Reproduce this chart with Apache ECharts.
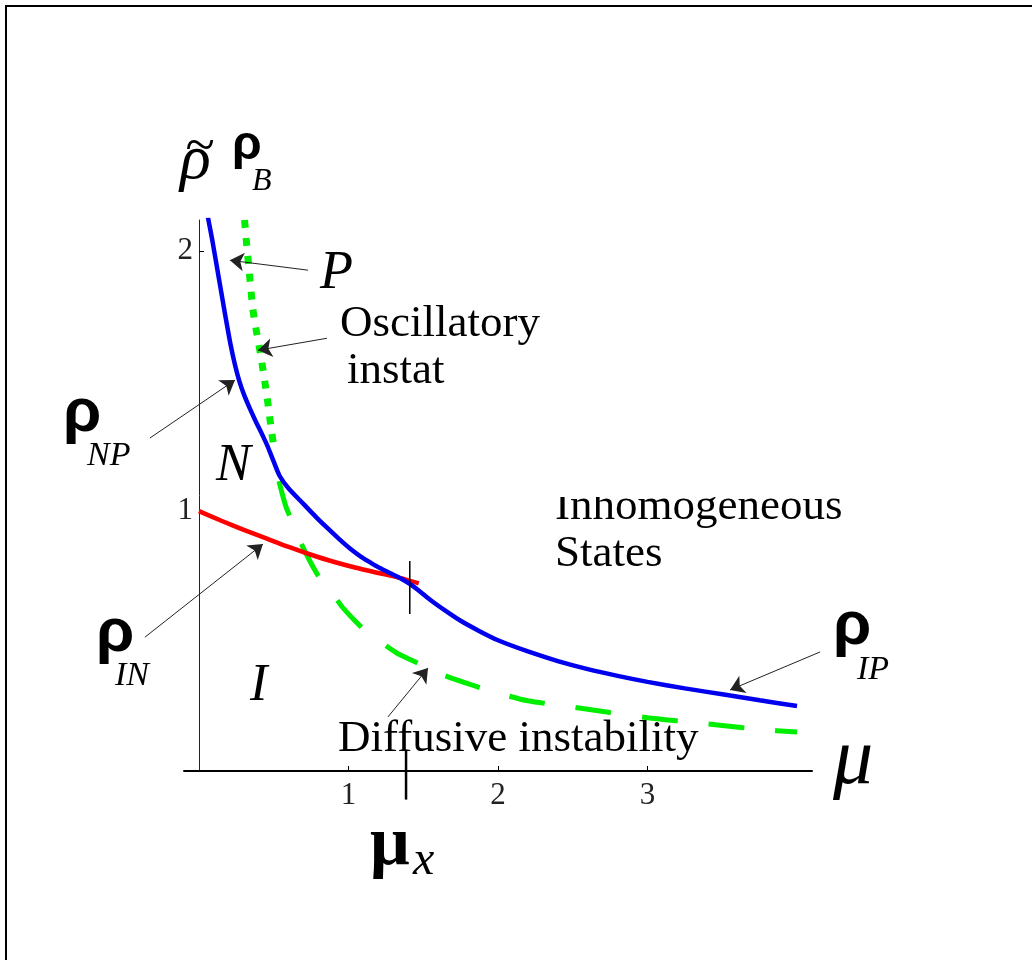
<!DOCTYPE html>
<html>
<head>
<meta charset="utf-8">
<script src="https://cdn.jsdelivr.net/npm/echarts@6/dist/echarts.min.js"></script>
<style>
  html, body { margin: 0; padding: 0; background: #fff; }
  #chart { width: 1032px; height: 960px; }
</style>
</head>
<body>
<div id="chart"></div>
<script>
// Phase diagram in the (mu, rho) plane: boundary curves between the
// homogeneous (I, N, P) regions and the inhomogeneous states.

const xTicks = [1, 2, 3];
const yTicks = [1, 2];

// rho_NP continuing into rho_IP (blue)
const rhoNPIP = [
  [0.06, 2.13], [0.09, 2.04], [0.12, 1.94], [0.15, 1.84], [0.18, 1.74],
  [0.21, 1.645], [0.24, 1.565], [0.27, 1.50], [0.30, 1.45], [0.34, 1.395],
  [0.38, 1.345], [0.42, 1.298], [0.46, 1.248], [0.50, 1.19], [0.54, 1.135],
  [0.60, 1.087], [0.70, 1.027], [0.78, 0.979], [0.86, 0.934], [0.94, 0.891],
  [1.01, 0.856], [1.08, 0.826], [1.15, 0.801], [1.21, 0.781], [1.28, 0.761],
  [1.35, 0.741], [1.41, 0.72], [1.48, 0.69], [1.55, 0.657], [1.65, 0.616],
  [1.75, 0.578], [1.87, 0.54], [2.0, 0.503], [2.2, 0.46], [2.4, 0.423],
  [2.6, 0.392], [2.8, 0.366], [3.0, 0.343], [3.25, 0.318], [3.5, 0.295],
  [3.75, 0.272], [4.0, 0.25]
];

// rho_IN (red)
const rhoIN = [
  [0, 1.0], [0.15, 0.963], [0.3, 0.928], [0.45, 0.895], [0.6, 0.862],
  [0.75, 0.832], [0.9, 0.805], [1.05, 0.782], [1.2, 0.762], [1.35, 0.742],
  [1.47, 0.722]
];

// oscillatory instability threshold (green, dotted)
const oscillatory = [
  [0.305, 2.12], [0.32, 2.02], [0.335, 1.93], [0.36, 1.78], [0.385, 1.69],
  [0.41, 1.61], [0.44, 1.50], [0.46, 1.42], [0.48, 1.33], [0.50, 1.25]
];

// diffusive instability threshold (green, dashed)
const diffusive = [
  [0.535, 1.115], [0.58, 1.02], [0.63, 0.95], [0.68, 0.88], [0.74, 0.81],
  [0.81, 0.74], [0.89, 0.685], [0.96, 0.63], [1.04, 0.58], [1.13, 0.53],
  [1.23, 0.49], [1.32, 0.455], [1.42, 0.427], [1.52, 0.40], [1.63, 0.37],
  [1.83, 0.33], [2.0, 0.30], [2.2, 0.27], [2.45, 0.25], [2.75, 0.225],
  [3.0, 0.205], [3.25, 0.19], [3.5, 0.175], [3.75, 0.16], [4.0, 0.15]
];

// mu_x marker on the mu axis and the short mark where the curves meet
const muX = 1.385;
const muXTick = [[muX, 0.08], [muX, -0.11]];
const meetMark = [[1.41, 0.604], [1.41, 0.808]];

// annotation arrows: [tail, head] in (mu, rho)
const arrows = [
  [[0.729, 1.927], [0.207, 1.965]],   // P
  [[0.856, 1.665], [0.395, 1.619]],   // Oscillatory instab.
  [[-0.328, 1.281], [0.241, 1.504]],  // rho_NP
  [[-0.361, 0.515], [0.428, 0.873]],  // rho_IN
  [[1.264, 0.208], [1.532, 0.396]],   // Diffusive instability
  [[4.154, 0.458], [3.552, 0.312]]    // rho_IP
];

const SERIF = '"Liberation Serif", "Times New Roman", serif';
const SANS = '"Liberation Sans", Arial, sans-serif';

function txt(text, x, baseline, size, style, family, align) {
  const cy = baseline - 0.35 * size;
  return {
    type: 'text', x: x, y: cy, z: 50,
    style: {
      text: text, fill: '#000',
      font: style + ' ' + size + 'px ' + family,
      textAlign: align || 'left', align: align || 'left',
      textVerticalAlign: 'middle', verticalAlign: 'middle'
    }
  };
}

const chart = echarts.init(document.getElementById('chart'), null, { renderer: 'canvas' });

const labelFont = { fontFamily: SERIF, fontSize: 31, color: '#222' };
const curve = { type: 'line', symbol: 'none', smooth: 0.25 };

chart.setOption({
  animation: false,
  backgroundColor: '#fff',
  grid: { left: 184, top: 220, width: 628, height: 551 },
  xAxis: {
    type: 'value', min: -0.1, max: 4.1,
    axisLine: { show: true, onZero: false, lineStyle: { color: '#000', width: 2 } },
    axisTick: { show: true, inside: true, length: 5, customValues: xTicks,
                lineStyle: { color: '#000', width: 1 } },
    axisLabel: Object.assign({ customValues: xTicks, margin: 9 }, labelFont),
    splitLine: { show: false }
  },
  yAxis: {
    type: 'value', min: 0, max: 2.12,
    position: 'left', offset: -15,
    axisLine: { show: true, onZero: false, lineStyle: { color: '#222', width: 1 } },
    axisTick: { show: true, inside: true, length: 5, customValues: yTicks,
                lineStyle: { color: '#000', width: 1 } },
    axisLabel: Object.assign({ customValues: yTicks, margin: 6 }, labelFont),
    splitLine: { show: false }
  },
  series: [
    Object.assign({}, curve, {
      data: oscillatory, z: 2,
      lineStyle: { color: '#00ee00', width: 7, type: [8, 10], cap: 'butt' }
    }),
    Object.assign({}, curve, {
      data: diffusive, z: 2,
      lineStyle: { color: '#00ee00', width: 5, type: [36, 31], cap: 'butt' }
    }),
    Object.assign({}, curve, {
      data: rhoIN, z: 3,
      lineStyle: { color: '#ff0000', width: 4.5 }
    }),
    Object.assign({}, curve, {
      data: rhoNPIP, z: 4,
      lineStyle: { color: '#0000ee', width: 4.5 }
    }),
    {
      type: 'line', data: meetMark, symbol: 'none', z: 5,
      lineStyle: { color: '#000', width: 1.5 }
    },
    {
      type: 'line', data: muXTick, symbol: 'none', clip: false, z: 5,
      lineStyle: { color: '#000', width: 2.5 }
    },
    {
      type: 'lines', coordinateSystem: 'cartesian2d', clip: false, z: 6,
      symbol: ['none', 'arrow'], symbolSize: 14,
      lineStyle: { color: '#222', width: 1, opacity: 1, curveness: 0 },
      itemStyle: { color: '#000' },
      data: arrows.map(a => ({ coords: a }))
    }
  ],
  graphic: [
    // frame
    { type: 'line', shape: { x1: 5, y1: 6, x2: 1032, y2: 6 }, style: { stroke: '#000', lineWidth: 2 } },
    { type: 'line', shape: { x1: 6, y1: 5, x2: 6, y2: 960 }, style: { stroke: '#000', lineWidth: 2 } },

    // axis titles
    txt('~', 200, 168, 54, 'normal', SERIF, 'center'),
    txt('ρ', 180, 184, 64, 'italic', SERIF),
    txt('ρ', 232, 163, 48, 'bold', SANS),
    txt('B', 252, 193, 32, 'italic', SERIF),
    txt('μ', 833, 790, 80, 'italic', SERIF),
    txt('μ', 370, 870, 70, 'bold', SERIF),
    txt('x', 413, 878, 48, 'italic', SERIF),

    // region letters
    txt('P', 320, 293, 54, 'italic', SERIF),
    txt('N', 216, 485, 52, 'italic', SERIF),
    txt('I', 250, 705, 52, 'italic', SERIF),

    // curve names
    txt('ρ', 63, 436, 62, 'bold', SANS),
    txt('NP', 87, 468, 34, 'italic', SERIF),
    txt('ρ', 96, 656, 62, 'bold', SANS),
    txt('IN', 115, 688, 34, 'italic', SERIF),
    txt('ρ', 833, 649, 62, 'bold', SANS),
    txt('IP', 857, 682, 34, 'italic', SERIF),

    // descriptions
    txt('Oscillatory', 340, 340, 45, 'normal', SERIF),
    txt('instat', 347, 387, 45, 'normal', SERIF),
    txt('Inhomogeneous', 555, 523, 45, 'normal', SERIF),
    txt('States', 555, 570, 45, 'normal', SERIF),
    txt('Diffusive instability', 338, 755, 45, 'normal', SERIF),
    // upper edge of the heading is trimmed
    { type: 'rect', z: 60, shape: { x: 550, y: 480, width: 310, height: 17 }, style: { fill: '#fff' } }
  ]
});
</script>
</body>
</html>
